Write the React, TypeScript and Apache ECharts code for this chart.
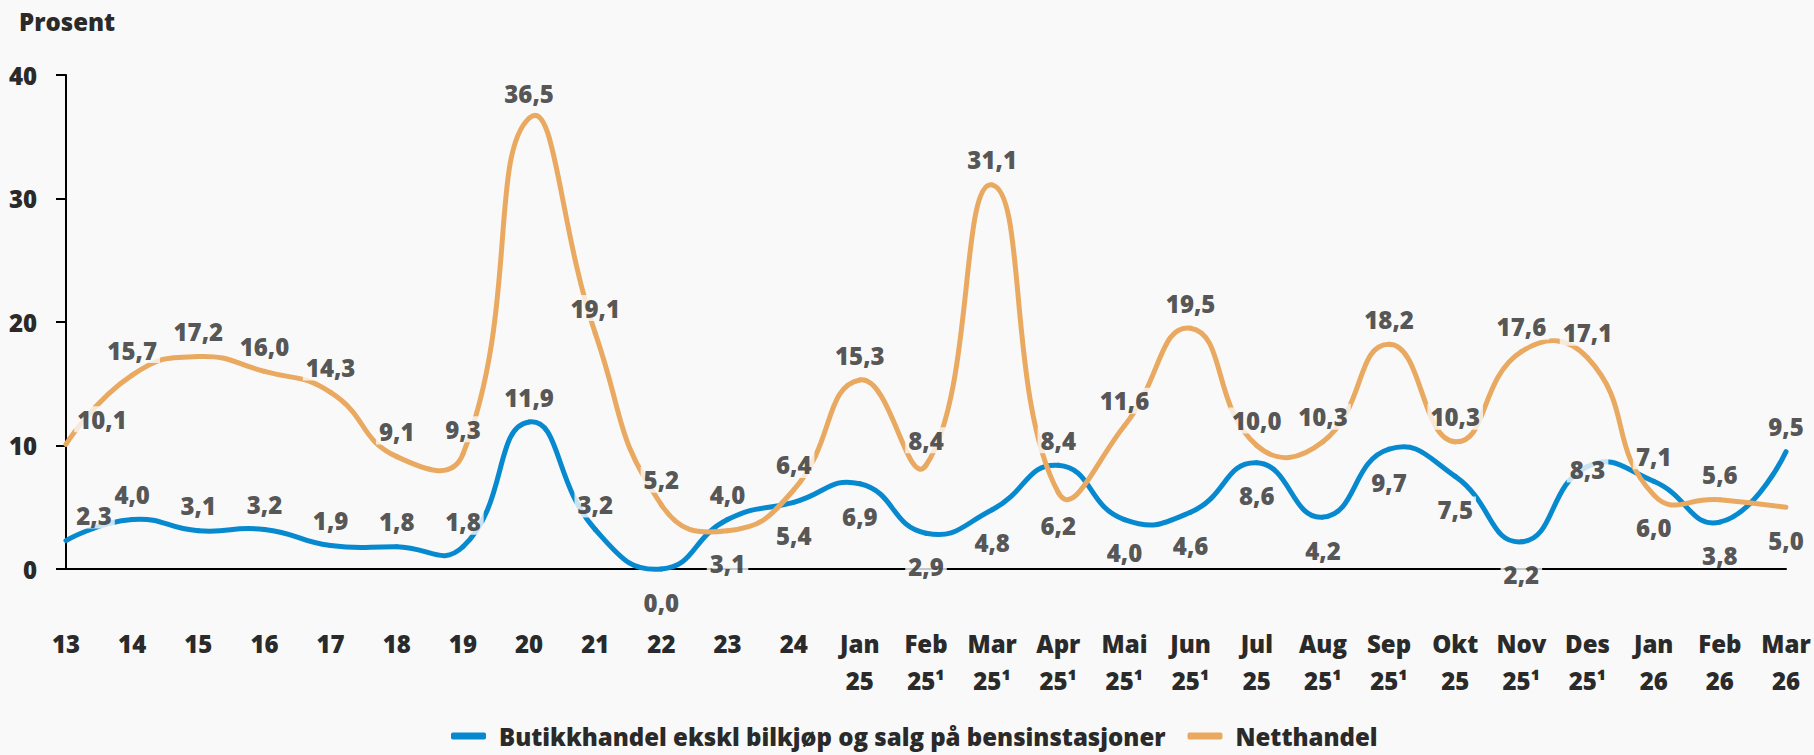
import React, { useEffect, useRef } from 'react';
import * as echarts from 'echarts';

const categories = [
  '13', '14', '15', '16', '17', '18', '19', '20', '21', '22', '23', '24',
  'Jan\n25', 'Feb\n25¹', 'Mar\n25¹', 'Apr\n25¹', 'Mai\n25¹', 'Jun\n25¹', 'Jul\n25',
  'Aug\n25¹', 'Sep\n25¹', 'Okt\n25', 'Nov\n25¹', 'Des\n25¹', 'Jan\n26', 'Feb\n26', 'Mar\n26',
];

const butikkName = 'Butikkhandel ekskl bilkjøp og salg på bensinstasjoner';
const nettName = 'Netthandel';

const butikk = [2.3, 4.0, 3.1, 3.2, 1.9, 1.8, 1.8, 11.9, 3.2, 0.0, 4.0, 5.4, 6.9, 2.9, 4.8, 8.4, 4.0, 4.6, 8.6, 4.2, 9.7, 7.5, 2.2, 8.3, 7.1, 3.8, 9.5];
const nett = [10.1, 15.7, 17.2, 16.0, 14.3, 9.1, 9.3, 36.5, 19.1, 5.2, 3.1, 6.4, 15.3, 8.4, 31.1, 6.2, 11.6, 19.5, 10.0, 10.3, 18.2, 10.3, 17.6, 17.1, 6.0, 5.6, 5.0];

// label placement: T = above, B = below, C = centred on point
const butikkLabelPos = ['T', 'T', 'T', 'T', 'T', 'T', 'T', 'T', 'T', 'B', 'T', 'B', 'B', 'B', 'B', 'T', 'B', 'B', 'B', 'B', 'B', 'B', 'B', 'C', 'T', 'B', 'T'];
const nettLabelPos = ['T', 'T', 'T', 'T', 'T', 'T', 'T', 'T', 'T', 'T', 'B', 'T', 'T', 'T', 'T', 'B', 'T', 'T', 'T', 'T', 'T', 'T', 'T', 'T', 'B', 'T', 'B'];

const yTicks = { min: 0, max: 40, interval: 10 };

const BLUE = '#0789CF';
const ORANGE = '#E9A960';
const TEXT = '#2A2A2A';
const BG = '#F9F9F9';
const FONT = '"Open Sans", "Noto Sans", sans-serif';
const WEIGHT = 800;
const SMOOTH = 0.5;

const offsetFor = (code: string, i: number, firstShift: number) => {
  const dx = i === 0 ? firstShift : 0;
  if (code === 'T') return [dx, -25];
  if (code === 'B') return [dx, 33];
  return [dx, 3];
};

const fmt = (v: number) => v.toFixed(1).replace('.', ',');

// Spline segment renderer (overshooting bezier, like a spreadsheet "smoothed line")
const splineRenderer = (vals: number[], color: string) => (params: any, api: any) => {
  const i = params.dataIndex;
  const n = vals.length;
  if (i >= n - 1) return { type: 'group', children: [] };
  const P = (k: number) => api.coord([k, vals[k]]) as number[];
  const cps = (k: number) => {
    const p = P(k);
    if (k === 0 || k === n - 1) return { inCp: p, outCp: p };
    const a = P(k - 1);
    const b = P(k + 1);
    const vx = b[0] - a[0];
    const vy = b[1] - a[1];
    const lp = Math.hypot(p[0] - a[0], p[1] - a[1]);
    const ln = Math.hypot(b[0] - p[0], b[1] - p[1]);
    const rp = lp / (lp + ln);
    const rn = ln / (lp + ln);
    return {
      inCp: [p[0] - vx * SMOOTH * rp, p[1] - vy * SMOOTH * rp],
      outCp: [p[0] + vx * SMOOTH * rn, p[1] + vy * SMOOTH * rn],
    };
  };
  const p0 = P(i);
  const p1 = P(i + 1);
  const c0 = cps(i).outCp;
  const c1 = cps(i + 1).inCp;
  return {
    type: 'bezierCurve',
    shape: {
      x1: p0[0], y1: p0[1], x2: p1[0], y2: p1[1],
      cpx1: c0[0], cpy1: c0[1], cpx2: c1[0], cpy2: c1[1],
    },
    style: { stroke: color, lineWidth: 5, fill: null, lineCap: 'round' },
    silent: true,
  };
};

export default function App() {
  const ref = useRef<HTMLDivElement>(null);

  useEffect(() => {
    if (!ref.current) return;
    const chart = echarts.init(ref.current, null, { renderer: 'svg' });

    const labelBase = {
      show: true,
      position: 'inside',
      color: TEXT,
      fontFamily: FONT,
      fontWeight: WEIGHT,
      fontSize: 24,
      lineHeight: 26,
      backgroundColor: BG,
      padding: [0, 3],
      formatter: (p: any) => fmt(p.value),
    };

    const labelData = (vals: number[], pos: string[], shift: number) =>
      vals.map((v, i) => ({
        value: v,
        label: { ...labelBase, offset: offsetFor(pos[i], i, shift) },
      }));

    chart.setOption({
      animation: false,
      backgroundColor: BG,
      title: {
        text: 'Prosent',
        left: 14,
        top: 4,
        textStyle: { fontFamily: FONT, fontWeight: WEIGHT, fontSize: 24, color: TEXT },
      },
      grid: { left: 66, right: 28, top: 75, bottom: 186, containLabel: false },
      legend: {
        data: [butikkName, nettName],
        left: 446,
        top: 719,
        icon: 'roundRect',
        itemWidth: 35,
        itemHeight: 7,
        itemGap: 22,
        textStyle: { fontFamily: FONT, fontWeight: WEIGHT, fontSize: 24, color: TEXT, padding: [0, 0, 0, 8] },
      },
      xAxis: {
        type: 'category',
        data: categories,
        boundaryGap: false,
        axisLine: { show: true, lineStyle: { color: '#000', width: 2 } },
        axisTick: { show: false },
        axisLabel: {
          interval: 0,
          margin: 56,
          color: TEXT,
          fontFamily: FONT,
          fontWeight: WEIGHT,
          fontSize: 24,
          lineHeight: 37,
        },
        splitLine: { show: false },
      },
      yAxis: {
        type: 'value',
        min: yTicks.min,
        max: yTicks.max,
        interval: yTicks.interval,
        axisLine: { show: true, lineStyle: { color: '#000', width: 2 } },
        axisTick: { show: true, length: 10, lineStyle: { color: '#000', width: 2 } },
        axisLabel: {
          margin: 29,
          color: TEXT,
          fontFamily: FONT,
          fontWeight: WEIGHT,
          fontSize: 24,
        },
        splitLine: { show: false },
      },
      series: [
        {
          name: butikkName,
          type: 'custom',
          data: butikk.map((v, i) => [i, v]),
          encode: { x: 0, y: 1 },
          renderItem: splineRenderer(butikk, BLUE),
          itemStyle: { color: BLUE },
          clip: false,
          z: 2,
        },
        {
          name: nettName,
          type: 'custom',
          data: nett.map((v, i) => [i, v]),
          encode: { x: 0, y: 1 },
          renderItem: splineRenderer(nett, ORANGE),
          itemStyle: { color: ORANGE },
          clip: false,
          z: 2,
        },
        {
          name: 'butikk-labels',
          type: 'scatter',
          data: labelData(butikk, butikkLabelPos, 28),
          symbolSize: 1,
          itemStyle: { color: 'rgba(0,0,0,0)' },
          silent: true,
          z: 5,
        },
        {
          name: 'nett-labels',
          type: 'scatter',
          data: labelData(nett, nettLabelPos, 36),
          symbolSize: 1,
          itemStyle: { color: 'rgba(0,0,0,0)' },
          silent: true,
          z: 5,
        },
      ],
    });

    return () => chart.dispose();
  }, []);

  return (
    <div
      ref={ref}
      style={{ position: 'absolute', left: 0, top: 0, width: 1814, height: 755 }}
    />
  );
}
